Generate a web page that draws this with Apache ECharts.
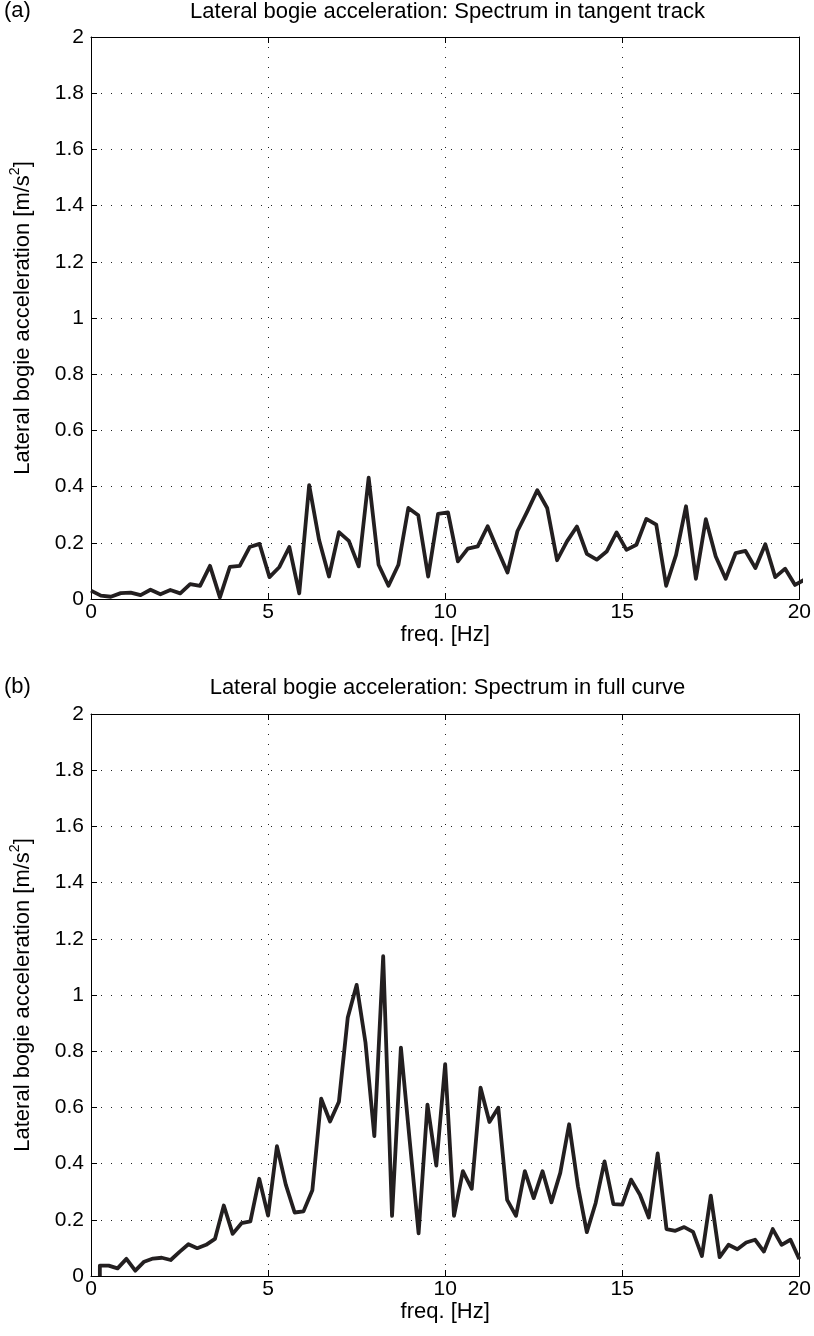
<!DOCTYPE html>
<html>
<head>
<meta charset="utf-8">
<script src="https://cdn.jsdelivr.net/npm/echarts@6/dist/echarts.min.js"></script>
<style>
  html, body { margin: 0; padding: 0; background: #ffffff; }
  #chart { width: 814px; height: 1336px; }
</style>
</head>
<body>
<div id="chart"></div>
<script>
// Panel (a): tangent track spectrum, frequency step 0.28 Hz starting at 0 Hz
const tangentStep = 0.28;
const tangentAcc = [
  0.030, 0.012, 0.008, 0.021, 0.023, 0.014, 0.033, 0.017, 0.032, 0.020,
  0.053, 0.047, 0.118, 0.006, 0.114, 0.118, 0.185, 0.196, 0.078, 0.114,
  0.185, 0.020, 0.405, 0.210, 0.080, 0.238, 0.207, 0.116, 0.432, 0.122,
  0.047, 0.122, 0.324, 0.298, 0.080, 0.303, 0.308, 0.134, 0.179, 0.187,
  0.259, 0.175, 0.094, 0.241, 0.312, 0.387, 0.324, 0.138, 0.205, 0.258,
  0.161, 0.140, 0.169, 0.237, 0.175, 0.193, 0.285, 0.265, 0.047, 0.157,
  0.330, 0.072, 0.284, 0.151, 0.072, 0.163, 0.171, 0.110, 0.195, 0.078,
  0.108, 0.050, 0.070
];

// Panel (b): full curve spectrum, frequency step 0.25 Hz starting at 0.25 Hz
const curveStep = 0.25;
const curveStart = 0.25;
const curveAcc = [
  0.037, 0.037, 0.027, 0.061, 0.019, 0.051, 0.062, 0.065, 0.057, 0.086,
  0.113, 0.099, 0.111, 0.132, 0.251, 0.150, 0.188, 0.194, 0.346, 0.215,
  0.462, 0.325, 0.226, 0.230, 0.305, 0.631, 0.550, 0.620, 0.920, 1.036,
  0.831, 0.498, 1.138, 0.214, 0.813, 0.480, 0.152, 0.610, 0.393, 0.754,
  0.214, 0.373, 0.310, 0.670, 0.548, 0.599, 0.271, 0.214, 0.373, 0.277,
  0.373, 0.262, 0.367, 0.540, 0.319, 0.156, 0.260, 0.408, 0.256, 0.254,
  0.343, 0.289, 0.208, 0.436, 0.167, 0.161, 0.174, 0.157, 0.071, 0.286,
  0.067, 0.111, 0.095, 0.119, 0.129, 0.087, 0.167, 0.111, 0.129, 0.060
];

const panelTitles = [
  'Lateral bogie acceleration: Spectrum in tangent track',
  'Lateral bogie acceleration: Spectrum in full curve'
];
const panelTags = ['(a)', '(b)'];
const xName = 'freq. [Hz]';
const xTicks = [0, 5, 10, 15, 20];
const yTickStep = 0.2;
const yMax = 2;

const tangentSeries = tangentAcc.map((v, i) => [i * tangentStep, v]);
// the full-curve trace rises vertically from the axis at its first bin
const curveSeries = [[curveStart, 0]].concat(
  curveAcc.map((v, i) => [curveStart + i * curveStep, v])
);

const FONT = '"Liberation Sans", Arial, Helvetica, sans-serif';
const INK = '#231f20';
const FS = 22;
const TICK_FS = 21;

const grids = [
  { left: 87, width: 713, top: 37, height: 562 },
  { left: 87, width: 713, top: 714, height: 562 }
];

function yLabel(v) {
  return Number(v.toFixed(1)).toString();
}

const gridDots = { color: '#222', type: [1, 9], width: 1 };
const xAxes = [];
const yAxes = [];
grids.forEach((g, gi) => {
  // bottom axis with labels and dotted grid
  xAxes.push({
    gridIndex: gi, type: 'value', position: 'bottom',
    min: xTicks[0], max: xTicks[xTicks.length - 1], interval: xTicks[1] - xTicks[0],
    name: xName, nameLocation: 'middle', nameGap: 17,
    nameTextStyle: { fontFamily: FONT, fontSize: FS, color: '#000' },
    axisLine: { show: true, onZero: false, lineStyle: { color: '#000', width: 1 } },
    axisTick: { show: true, inside: true, length: 6, lineStyle: { color: '#000' } },
    axisLabel: { fontFamily: FONT, fontSize: TICK_FS, color: '#000', margin: 3 },
    splitLine: { show: true, lineStyle: gridDots }
  });
  // top frame edge with mirrored ticks
  xAxes.push({
    gridIndex: gi, type: 'value', position: 'top',
    min: xTicks[0], max: xTicks[xTicks.length - 1], interval: xTicks[1] - xTicks[0],
    axisLine: { show: true, onZero: false, lineStyle: { color: '#000', width: 1 } },
    axisTick: { show: true, inside: true, length: 6, lineStyle: { color: '#000' } },
    axisLabel: { show: false },
    splitLine: { show: false }
  });
  yAxes.push({
    gridIndex: gi, type: 'value', position: 'left',
    min: 0, max: yMax, interval: yTickStep,
    name: '{t|Lateral bogie acceleration [m/s}{s|2}{t|]}',
    nameLocation: 'middle', nameGap: 54, nameRotate: 90,
    nameTextStyle: {
      fontFamily: FONT, color: '#000',
      rich: {
        t: { fontFamily: FONT, fontSize: FS, color: '#000' },
        s: { fontFamily: FONT, fontSize: 14, color: '#000', padding: [0, 0, 15, 0] }
      }
    },
    axisLine: { show: true, onZero: false, lineStyle: { color: '#000', width: 1 } },
    axisTick: { show: true, inside: true, length: 6, lineStyle: { color: '#000' } },
    axisLabel: { fontFamily: FONT, fontSize: TICK_FS, color: '#000', margin: 7, formatter: yLabel },
    splitLine: { show: true, lineStyle: gridDots }
  });
  yAxes.push({
    gridIndex: gi, type: 'value', position: 'right',
    min: 0, max: yMax, interval: yTickStep,
    axisLine: { show: true, onZero: false, lineStyle: { color: '#000', width: 1 } },
    axisTick: { show: true, inside: true, length: 6, lineStyle: { color: '#000' } },
    axisLabel: { show: false },
    splitLine: { show: false }
  });
});

const titles = [];
grids.forEach((g, gi) => {
  titles.push({
    text: panelTitles[gi],
    left: g.left + g.width / 2 + 4, top: g.top - 36 - gi, textAlign: 'center', padding: 0,
    textStyle: { fontFamily: FONT, fontSize: FS, fontWeight: 'normal', color: '#000' }
  });
  titles.push({
    text: panelTags[gi],
    left: 4, top: g.top - 37 - gi, padding: 0,
    textStyle: { fontFamily: FONT, fontSize: FS, fontWeight: 'normal', color: '#000' }
  });
});

const chart = echarts.init(document.getElementById('chart'), null, { renderer: 'canvas' });
chart.setOption({
  backgroundColor: '#ffffff',
  animation: false,
  title: titles,
  grid: grids,
  xAxis: xAxes,
  yAxis: yAxes,
  series: [
    {
      type: 'line', xAxisIndex: 0, yAxisIndex: 0,
      data: tangentSeries, showSymbol: false, symbol: 'none', clip: true,
      lineStyle: { color: INK, width: 3.8, join: 'round', cap: 'butt' }
    },
    {
      type: 'line', xAxisIndex: 2, yAxisIndex: 2,
      data: curveSeries, showSymbol: false, symbol: 'none', clip: true,
      lineStyle: { color: INK, width: 3.8, join: 'round', cap: 'butt' }
    }
  ]
});
</script>
</body>
</html>
